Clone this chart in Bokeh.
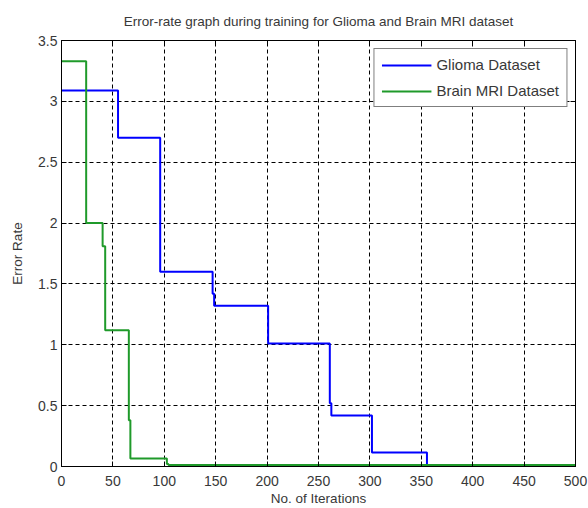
from bokeh.plotting import figure
from bokeh.models import (Range1d, LinearAxis, FixedTicker, NumeralTickFormatter,
                          Legend, LegendItem)
from bokeh.embed import file_html
from bokeh.resources import INLINE

# Error rate per training iteration (step-wise, value holds until next change point)
glioma_iterations = [0, 55, 96, 147, 148.5, 201, 261, 262.5, 302, 355.5, 500]
glioma_error = [3.09, 2.70, 1.60, 1.42, 1.32, 1.01, 0.52, 0.42, 0.115, 0.0, 0.0]

mri_iterations = [0, 24, 40, 42.5, 65.5, 67, 102.5, 104, 500]
mri_error = [3.33, 2.00, 1.81, 1.12, 0.38, 0.065, 0.02, 0.012, 0.012]

x_ticks = [0, 50, 100, 150, 200, 250, 300, 350, 400, 450, 500]
y_ticks = [0, 0.5, 1, 1.5, 2, 2.5, 3, 3.5]

FONT = "Liberation Sans"
TEXT = "#383838"

p = figure(width=588, height=508,
           x_range=Range1d(0, 500), y_range=Range1d(0, 3.5),
           output_backend="svg", toolbar_location=None,
           title="Error-rate graph during training for Glioma and Brain MRI dataset",
           min_border_left=61, min_border_right=13,
           min_border_top=40, min_border_bottom=41)

p.title.align = "center"
p.title.text_font = FONT
p.title.text_font_size = "13.5px"
p.title.text_font_style = "normal"
p.title.text_color = TEXT
p.title.standoff = 23

p.outline_line_color = "black"
p.outline_line_width = 1

bottom_axis = p.below[0]
left_axis = p.left[0]

# mirrored axes on top and right carry inward ticks only
top_axis = LinearAxis()
right_axis = LinearAxis()
p.add_layout(top_axis, "above")
p.add_layout(right_axis, "right")

for ax in (bottom_axis, top_axis):
    ax.ticker = FixedTicker(ticks=x_ticks)
for ax in (left_axis, right_axis):
    ax.ticker = FixedTicker(ticks=y_ticks)
    ax.formatter = NumeralTickFormatter(format="0.[0]")

for ax in (bottom_axis, top_axis, left_axis, right_axis):
    ax.axis_line_color = "black"
    ax.major_tick_line_color = "black"
    ax.major_tick_in = 5
    ax.major_tick_out = 0
    ax.minor_tick_line_color = None
    ax.major_label_text_font = FONT
    ax.major_label_text_font_size = "14px"
    ax.major_label_text_color = TEXT
    ax.axis_label_text_font = FONT
    ax.axis_label_text_font_size = "13.5px"
    ax.axis_label_text_font_style = "normal"
    ax.axis_label_text_color = TEXT

for ax in (top_axis, right_axis):
    ax.major_label_text_color = None
    ax.major_label_text_font_size = "1px"
    ax.major_label_standoff = 0

bottom_axis.axis_label = "No. of Iterations"
bottom_axis.major_label_standoff = 9
bottom_axis.axis_label_standoff = 2
left_axis.axis_label = "Error Rate"
left_axis.major_label_standoff = 4
left_axis.axis_label_standoff = 10

p.grid.grid_line_color = "black"
p.grid.grid_line_dash = "4 3"
p.grid.grid_line_width = 1

glioma = p.step(glioma_iterations, glioma_error, mode="after",
                line_color="#0000ff", line_width=2)
mri = p.step(mri_iterations, mri_error, mode="after",
             line_color="#1f9a2a", line_width=2)

legend = Legend(items=[LegendItem(label="Glioma Dataset", renderers=[glioma]),
                       LegendItem(label="Brain MRI Dataset", renderers=[mri])],
                location="top_right")
legend.margin = 8
legend.padding = 7
legend.spacing = 9
legend.glyph_width = 50
legend.glyph_height = 16
legend.label_height = 16
legend.label_standoff = 5
legend.label_text_font = FONT
legend.label_text_font_size = "15px"
legend.label_text_color = TEXT
legend.border_line_color = "black"
legend.border_line_width = 1
legend.background_fill_color = "white"
legend.background_fill_alpha = 1
p.add_layout(legend)

open("out.html", "w").write(file_html(p, INLINE))
